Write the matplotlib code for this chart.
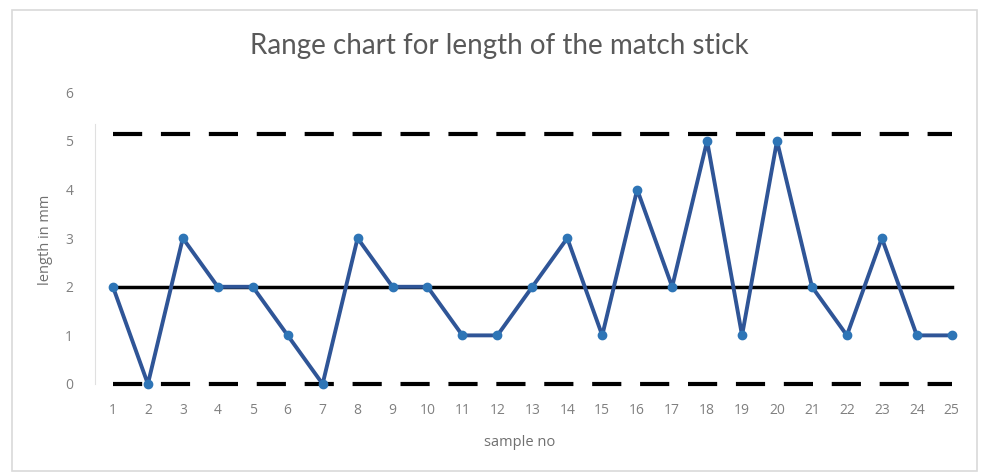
import matplotlib
matplotlib.use("Agg")
import matplotlib.pyplot as plt
from matplotlib.patches import Rectangle

samples = list(range(1, 26))
ranges = [2, 0, 3, 2, 2, 1, 0, 3, 2, 2, 1, 1, 2, 3, 1, 4, 2, 5, 1, 5, 2, 1, 3, 1, 1]
ucl = 5.148
cl = 2.0
lcl = 0.0
yticks = [0, 1, 2, 3, 4, 5, 6]

plt.rcParams['font.family'] = ['Open Sans', 'DejaVu Sans']

fig = plt.figure(figsize=(9.81, 4.75), dpi=100)
fig.patches.append(Rectangle((12/981, 4/475), 965/981, 461/475, transform=fig.transFigure,
                             fill=False, edgecolor='#d9d9d9', linewidth=1.2))
ax = fig.add_axes([0.0973, 0.1916, 0.8907, 0.614])

ax.plot(samples, [ucl]*len(samples), color='black', lw=3, dashes=(7, 4.5), zorder=2, clip_on=False)
ax.plot(samples, [lcl]*len(samples), color='black', lw=3, dashes=(7, 4.5), zorder=2, clip_on=False)
ax.plot(samples, [cl]*len(samples), color='black', lw=2.5, zorder=2, clip_on=False)
ax.plot(samples, ranges, color='#2f5597', lw=2.8, marker='o', markersize=6,
        markerfacecolor='#2e75b6', markeredgecolor='#2e75b6', zorder=3, clip_on=False)

ax.set_xlim(0.5, 25.5)
ax.set_ylim(0, 6)
ax.set_yticks(yticks)
ax.set_xticks(samples)
ax.tick_params(axis='both', length=0, labelsize=10, labelcolor='#808080')
ax.tick_params(axis='x', pad=14)
ax.tick_params(axis='y', pad=16)
for s in ['top', 'right', 'bottom']:
    ax.spines[s].set_visible(False)
ax.spines['left'].set_color('#e0e0e0')
ax.spines['left'].set_bounds(0, 5.35)

fig.text(499/981, 1 - 46/475, 'Range chart for length of the match stick', fontsize=20,
         color='#595959', ha='center', va='center', family=['Lato', 'DejaVu Sans'])
ax.set_xlabel('sample no', fontsize=10.5, color='#707070')
ax.xaxis.label.set_va('center')
ax.xaxis.set_label_coords((520 - 95.5) / 874, -(442 - 384) / 291.5)
ax.set_ylabel('length in mm', fontsize=10.5, color='#707070')
ax.yaxis.label.set_va('center')
ax.yaxis.set_label_coords(-(95.5 - 46) / 874, (384 - 240) / 291.5)

fig.savefig('out.png', dpi=100, facecolor='white')
